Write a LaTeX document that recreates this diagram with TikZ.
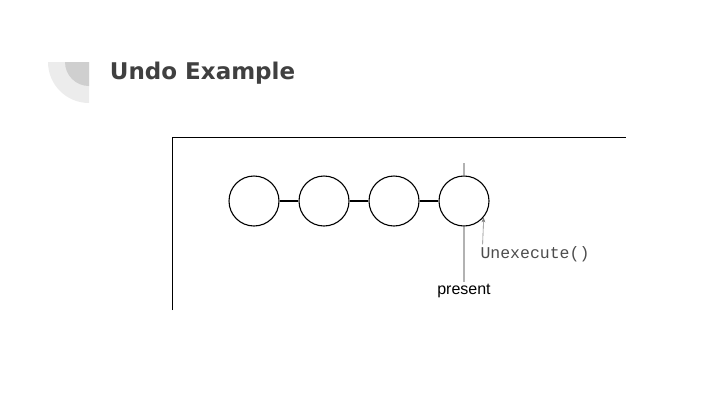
\documentclass[tikz,border=0pt]{standalone}
\usepackage{fontspec}
\setmainfont{Liberation Sans}
\newfontfamily\titlefont{DejaVu Sans}
\setmonofont{Liberation Mono}
\usetikzlibrary{arrows.meta,positioning}

\begin{document}
\begin{tikzpicture}[x=1pt,y=-1pt,
                    state/.style={circle,draw,line width=1.1pt,minimum size=50pt,inner sep=0pt},
                    every path/.style={line width=1.1pt}]
\useasboundingbox (0,0) rectangle (720,405);

% corner decoration
\fill[gray!15] (89,62) -- (48,62) arc[start angle=180,end angle=90,radius=41] -- cycle;
\fill[gray!38] (89,62) -- (65,62) arc[start angle=180,end angle=90,radius=24] -- cycle;
\node[anchor=west,text=black!75,font=\titlefont\bfseries\fontsize{23}{26}\selectfont] (title) at (106,73) {Undo Example};

% frame
\draw[line width=0.6pt] (172,310) -- (172,137) -- (626,137);

% history list
\node[state] (h0) at (254,201) {};
\node[state] (h1) at (324,201) {} edge (h0);
\node[state] (h2) at (394,201) {} edge (h1);
\node[state] (h3) at (464,201) {} edge (h2);

% present marker
\coordinate (top) at (464,163);
\node[font=\fontsize{16}{18}\selectfont,inner sep=2pt] (present) at (464,291) {present};
\draw[gray!60,line width=1.3pt] (top) -- (h3.north);
\draw[gray!60,line width=1.3pt] (h3.south) -- (present.north);

\node[font=\ttfamily\fontsize{16.5}{18}\selectfont,text=black!70] (undo) at (535,254) {Unexecute()};
\draw[-{Stealth[length=5pt]},gray,line width=0.6pt] (undo.north west) ++(6,2) coordinate (u) (u) -- (h3.-40);
\end{tikzpicture}
\end{document}
